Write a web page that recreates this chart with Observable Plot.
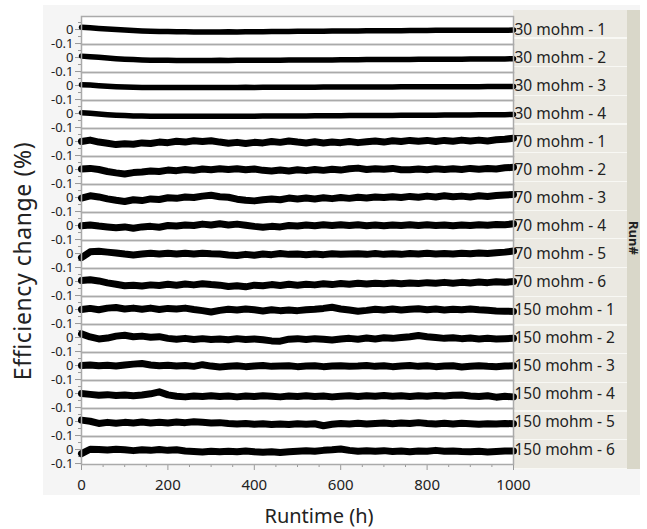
<!DOCTYPE html>
<html><head><meta charset="utf-8">
<script src="https://cdn.jsdelivr.net/npm/d3@7"></script>
<script src="https://cdn.jsdelivr.net/npm/@observablehq/plot@0.6"></script>
<style>
body{margin:0;background:#fff;font-family:"Noto Sans",sans-serif;}
#wrap{position:relative;width:647px;height:529px;overflow:hidden;}
#bg{position:absolute;left:43px;top:5px;width:597px;height:490px;background:#f5f5f5;}
#strip{position:absolute;left:513px;top:10px;width:114px;height:459px;
  background:repeating-linear-gradient(to bottom,#ebe9e2 0px,#ebe9e2 27.4px,#f8f8f4 27.4px,#f8f8f4 28.6875px);}
#strip2{position:absolute;left:627px;top:10px;width:13px;height:459px;background:#d9d7c9;}
#chart{position:absolute;left:0;top:0;}
#ytitle{position:absolute;left:22px;top:261px;transform:translate(-50%,-50%) rotate(-90deg);white-space:nowrap;font-size:23px;letter-spacing:0.6px;color:#222;}
#xtitle{position:absolute;left:319px;top:515px;transform:translate(-50%,-50%);white-space:nowrap;font-size:20px;color:#222;}
#run{position:absolute;left:634px;top:238px;transform:translate(-50%,-50%) rotate(90deg);white-space:nowrap;font-size:13px;font-weight:bold;color:#222;}
</style></head>
<body>
<div id="wrap">
  <div id="bg"></div>
  <div id="strip"></div>
  <div id="strip2"></div>
  <div id="chart"></div>
  <div id="ytitle">Efficiency change (%)</div>
  <div id="xtitle">Runtime (h)</div>
  <div id="run">Run#</div>
</div>
<script>
const runs = ["30 mohm - 1","30 mohm - 2","30 mohm - 3","30 mohm - 4",
  "70 mohm - 1","70 mohm - 2","70 mohm - 3","70 mohm - 4","70 mohm - 5","70 mohm - 6",
  "150 mohm - 1","150 mohm - 2","150 mohm - 3","150 mohm - 4","150 mohm - 5","150 mohm - 6"];

const hours = [0,20,40,60,80,100,120,140,160,180,200,220,240,260,280,300,320,340,360,380,400,420,440,460,480,500,520,540,560,580,600,620,640,660,680,700,720,740,760,780,800,820,840,860,880,900,920,940,960,980,1000];

const xTicks = [0,200,400,600,800,1000];
const xMinorTicks = [50,100,150,250,300,350,450,500,550,650,700,750,850,900,950];
const yTicks = [0,-0.1];
const yMinorTicks = [0.05,-0.05];

const r30_1 = [0.016,0.012,0.008,0.004,0.000,-0.004,-0.007,-0.010,-0.012,-0.014,-0.015,-0.016,-0.016,-0.017,-0.017,-0.017,-0.017,-0.016,-0.017,-0.016,-0.016,-0.016,-0.015,-0.015,-0.014,-0.013,-0.013,-0.012,-0.012,-0.011,-0.011,-0.010,-0.010,-0.009,-0.009,-0.008,-0.008,-0.008,-0.007,-0.007,-0.007,-0.006,-0.006,-0.006,-0.006,-0.005,-0.005,-0.005,-0.005,-0.005,-0.004];
const r30_2 = [0.010,0.006,0.002,-0.003,-0.008,-0.012,-0.015,-0.017,-0.019,-0.020,-0.020,-0.021,-0.021,-0.021,-0.021,-0.021,-0.020,-0.021,-0.020,-0.020,-0.020,-0.019,-0.019,-0.019,-0.018,-0.018,-0.018,-0.017,-0.017,-0.017,-0.016,-0.016,-0.016,-0.015,-0.015,-0.015,-0.014,-0.014,-0.014,-0.013,-0.013,-0.013,-0.012,-0.012,-0.012,-0.011,-0.011,-0.011,-0.010,-0.010,-0.009];
const r30_3 = [0.006,0.003,-0.001,-0.005,-0.008,-0.011,-0.013,-0.014,-0.014,-0.015,-0.015,-0.015,-0.015,-0.014,-0.015,-0.014,-0.014,-0.014,-0.014,-0.013,-0.014,-0.013,-0.013,-0.013,-0.012,-0.012,-0.012,-0.012,-0.011,-0.011,-0.011,-0.011,-0.010,-0.010,-0.010,-0.010,-0.010,-0.009,-0.009,-0.009,-0.009,-0.009,-0.008,-0.008,-0.008,-0.008,-0.008,-0.007,-0.007,-0.007,-0.007];
const r30_4 = [0.006,0.002,-0.003,-0.008,-0.012,-0.015,-0.017,-0.018,-0.019,-0.019,-0.020,-0.020,-0.020,-0.020,-0.020,-0.019,-0.020,-0.019,-0.019,-0.019,-0.019,-0.018,-0.018,-0.018,-0.017,-0.017,-0.017,-0.016,-0.016,-0.016,-0.016,-0.015,-0.015,-0.015,-0.014,-0.014,-0.014,-0.013,-0.013,-0.013,-0.012,-0.012,-0.011,-0.011,-0.010,-0.010,-0.009,-0.009,-0.008,-0.008,-0.007];
const r70_1 = [0.000,0.010,-0.004,-0.012,-0.022,-0.016,-0.020,-0.010,-0.014,-0.004,-0.008,0.002,-0.004,0.006,0.000,0.006,-0.004,-0.012,-0.006,-0.014,-0.006,-0.010,0.000,-0.006,0.004,-0.004,-0.010,-0.002,-0.010,-0.004,-0.008,0.000,-0.008,-0.002,0.004,-0.004,0.006,0.000,0.008,0.002,0.008,0.000,0.008,0.002,0.010,0.004,0.010,0.004,0.012,0.016,0.024];
const r70_2 = [0.004,0.008,0.000,-0.014,-0.024,-0.032,-0.022,-0.018,-0.010,-0.014,-0.004,-0.008,0.000,-0.006,0.004,-0.002,0.006,0.000,0.006,-0.002,0.004,-0.006,-0.010,-0.004,-0.010,-0.002,-0.008,0.000,-0.006,0.002,-0.004,0.006,0.010,0.000,0.006,0.002,0.008,-0.002,-0.002,0.004,-0.002,0.006,0.000,0.006,0.000,0.008,0.002,0.008,0.004,0.012,0.016];
const r70_3 = [-0.004,0.012,0.004,-0.010,-0.020,-0.028,-0.016,-0.022,-0.010,-0.014,-0.002,-0.006,0.004,0.000,0.010,0.016,0.006,0.002,-0.012,-0.020,-0.024,-0.016,-0.010,-0.016,-0.004,-0.010,-0.004,-0.010,-0.002,-0.008,0.000,-0.006,0.002,-0.004,0.004,0.000,0.006,0.000,0.008,0.002,0.010,0.004,0.012,0.006,0.010,0.004,0.012,0.008,0.014,0.018,0.022];
const r70_4 = [-0.002,0.004,-0.004,-0.010,-0.016,-0.010,-0.020,-0.010,-0.006,-0.012,0.000,-0.004,0.004,0.000,0.010,0.004,0.012,0.004,0.010,0.002,-0.006,-0.012,-0.006,-0.010,0.000,-0.004,0.004,-0.002,0.006,0.000,0.006,0.000,0.006,-0.002,0.004,-0.002,0.004,0.000,0.006,0.000,0.006,0.000,0.004,-0.002,0.004,0.000,0.006,0.002,0.008,0.006,0.012];
const r70_5 = [-0.030,0.012,0.016,0.010,0.004,-0.004,-0.010,-0.004,0.002,-0.004,0.002,-0.004,0.002,-0.004,0.002,-0.002,-0.004,-0.010,-0.014,-0.006,-0.012,-0.004,-0.008,0.000,-0.006,-0.004,-0.008,-0.004,-0.008,-0.002,-0.006,-0.004,-0.002,-0.006,0.000,-0.006,-0.002,-0.006,0.000,-0.004,0.002,-0.004,0.000,-0.004,0.002,-0.002,0.004,0.000,0.006,0.010,0.018];
const r70_6 = [0.008,0.012,0.004,-0.010,-0.020,-0.030,-0.026,-0.032,-0.024,-0.028,-0.020,-0.026,-0.018,-0.024,-0.016,-0.022,-0.026,-0.036,-0.030,-0.038,-0.026,-0.030,-0.022,-0.028,-0.020,-0.026,-0.020,-0.024,-0.016,-0.022,-0.014,-0.020,-0.012,-0.018,-0.012,-0.016,-0.010,-0.016,-0.010,-0.014,-0.008,-0.012,-0.006,-0.012,-0.006,-0.010,-0.004,-0.008,-0.002,-0.006,0.000];
const r150_1 = [0.000,0.008,-0.002,0.010,0.014,0.004,0.010,0.002,0.010,0.000,0.008,0.004,0.010,0.000,-0.008,-0.018,-0.006,0.002,-0.004,0.004,-0.002,-0.010,-0.002,-0.008,-0.004,-0.008,-0.002,0.002,0.008,0.016,0.004,-0.004,-0.012,-0.006,0.002,-0.004,0.004,-0.004,0.002,0.006,-0.002,0.004,-0.004,0.002,-0.002,0.004,-0.002,-0.006,-0.010,-0.012,-0.014];
const r150_2 = [0.026,0.004,-0.010,-0.004,0.010,0.016,0.006,0.010,0.002,0.006,-0.006,-0.012,-0.006,-0.014,-0.008,-0.014,-0.010,-0.016,-0.008,-0.014,-0.010,-0.016,-0.024,-0.026,-0.012,-0.008,-0.014,-0.008,-0.012,-0.018,-0.010,-0.006,-0.012,-0.004,-0.010,-0.002,-0.006,0.000,0.006,0.014,0.006,0.000,-0.006,-0.002,-0.008,-0.004,-0.010,-0.006,-0.010,-0.008,-0.006];
const r150_3 = [0.000,0.004,-0.002,0.002,-0.004,0.004,0.010,0.014,0.004,-0.002,0.002,-0.004,0.000,-0.006,0.006,-0.004,-0.010,-0.006,-0.002,-0.008,-0.004,0.000,-0.006,-0.004,-0.002,-0.008,-0.004,-0.002,-0.008,-0.004,-0.002,-0.006,-0.004,0.000,-0.006,-0.002,-0.008,-0.004,0.000,-0.006,-0.002,-0.008,-0.004,-0.002,-0.010,-0.006,-0.002,-0.006,-0.008,-0.004,-0.002];
const r150_4 = [0.000,-0.006,-0.012,-0.008,-0.014,-0.010,-0.016,-0.010,-0.002,0.012,-0.010,-0.020,-0.024,-0.018,-0.022,-0.016,-0.022,-0.018,-0.024,-0.018,-0.022,-0.016,-0.020,-0.024,-0.018,-0.022,-0.016,-0.022,-0.018,-0.024,-0.020,-0.016,-0.022,-0.016,-0.020,-0.014,-0.020,-0.016,-0.022,-0.016,-0.020,-0.014,-0.018,-0.012,-0.010,-0.018,-0.022,-0.016,-0.026,-0.020,-0.024];
const r150_5 = [0.010,0.002,-0.014,-0.006,-0.012,-0.006,-0.010,-0.004,-0.010,-0.006,-0.010,-0.004,-0.008,-0.002,-0.006,-0.010,-0.008,-0.014,-0.018,-0.014,-0.020,-0.016,-0.022,-0.018,-0.022,-0.016,-0.020,-0.016,-0.030,-0.020,-0.014,-0.018,-0.012,-0.018,-0.014,-0.010,-0.016,-0.010,-0.014,-0.008,-0.014,-0.018,-0.012,-0.018,-0.012,-0.016,-0.020,-0.016,-0.018,-0.014,-0.016];
const r150_6 = [-0.030,0.002,0.000,-0.004,0.002,-0.002,-0.008,-0.002,-0.006,0.000,-0.006,-0.002,-0.010,-0.014,-0.018,-0.012,-0.016,-0.012,-0.016,-0.010,-0.016,-0.020,-0.016,-0.022,-0.016,-0.012,-0.008,-0.012,-0.006,-0.002,0.004,-0.006,-0.012,-0.008,-0.012,-0.008,-0.014,-0.010,-0.016,-0.010,-0.012,-0.006,-0.012,-0.010,-0.014,-0.016,-0.012,-0.018,-0.014,-0.010,-0.010];

const series = [r30_1,r30_2,r30_3,r30_4,r70_1,r70_2,r70_3,r70_4,r70_5,r70_6,r150_1,r150_2,r150_3,r150_4,r150_5,r150_6];

const data = [];
runs.forEach((run, i) => {
  series[i].forEach((v, j) => data.push({run, band: run.split(" ")[0], h: hours[j], v}));
});

const lineFor = (band, w) => Plot.lineY(data.filter(d => d.band === band), {
  x: "h", y: "v", fy: "run", z: "run", stroke: "black", strokeWidth: w,
  strokeLinejoin: "round", strokeLinecap: "round"
});

const chart = Plot.plot({
  width: 647, height: 500,
  marginLeft: 81, marginRight: 134, marginTop: 10, marginBottom: 31,
  style: {background: "transparent", fontFamily: "Noto Sans", color: "#222", overflow: "visible"},
  x: {domain: [0, 1000]},
  y: {domain: [-0.107, 0.093]},
  fy: {domain: runs, padding: 0},
  marks: [
    Plot.frame({fill: "white", stroke: null}),
    Plot.axisY({ticks: yMinorTicks, tickSize: 3, tickFormat: () => "", stroke: "#999", label: null}),
    Plot.axisY({ticks: yTicks, tickSize: 6, tickPadding: 2, fontSize: 13, stroke: "#999", fill: "#222",
      tickFormat: d => d === 0 ? "0" : String(d), label: null}),
    Plot.axisX({ticks: xMinorTicks, tickSize: 3, tickFormat: () => "", stroke: "#999", label: null}),
    Plot.axisX({ticks: xTicks, tickSize: 6, tickPadding: 9, fontSize: 15, stroke: "#999", fill: "#222",
      tickFormat: d => String(d), label: null}),
    Plot.axisFy({anchor: "right", label: null, tickSize: 0, tickPadding: 1, fontSize: 15.5, textAnchor: "start", fill: "#222"}),
    lineFor("30", 5.5),
    lineFor("70", 7),
    lineFor("150", 7),
    Plot.frame({stroke: "#aaa", strokeWidth: 1.5})
  ]
});
document.getElementById("chart").appendChild(chart);
</script>
</body></html>
